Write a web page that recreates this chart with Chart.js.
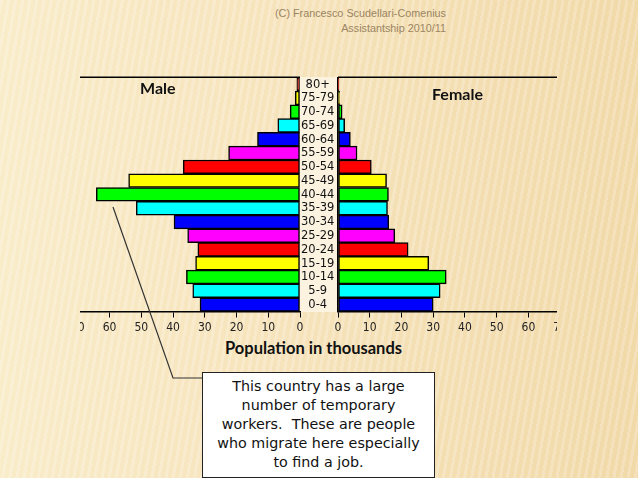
<!DOCTYPE html>
<html>
<head>
<meta charset="utf-8">
<script src="https://cdn.jsdelivr.net/npm/chart.js@4.4.0/dist/chart.umd.min.js"></script>
<style>
body { margin: 0; }
#page {
    position: relative; width: 638px; height: 478px; overflow: hidden;
    background:
        repeating-linear-gradient(100deg, rgba(255,255,255,0.22) 0 3px, rgba(255,255,255,0) 3px 7px),
        linear-gradient(90deg, #f9ecc9 0%, #f6e3bb 45%, #f1d9a8 100%);
}
.hdr { position: absolute; right: 192px; font: 10.8px "Liberation Sans", Arial, sans-serif; color: #9a8462; text-align: right; line-height: 14px; }
#strip { position: absolute; left: 300px; top: 77px; width: 38px; height: 235px; background: #fbf2e0; }
#leftBox { position: absolute; left: 80px; top: 68px; width: 258px; height: 270px; overflow: hidden; }
#leftBox canvas { position: absolute; left: -18px; top: 0; }
#rightBox { position: absolute; left: 320px; top: 68px; width: 237px; height: 270px; overflow: hidden; }
#rightBox canvas { position: absolute; left: 7.5px; top: 0; }
.ttl { position: absolute; font: bold 16px Lato, "DejaVu Sans", sans-serif; color: #111; }
#note {
    position: absolute; left: 202px; top: 372px; width: 231px; height: 100px;
    border: 1.5px solid #222; background: #fff; text-align: center;
    font: 14.3px "DejaVu Sans", sans-serif; line-height: 19px; padding-top: 4px; box-sizing: content-box; color: #111;
}
svg { position: absolute; left: 0; top: 0; }
</style>
</head>
<body>
<div id="page">
    <div class="hdr" style="top:6px">(C) Francesco Scudellari-Comenius</div>
    <div class="hdr" style="top:21px">Assistantship 2010/11</div>
    <div id="strip"></div>
    <div id="leftBox"><canvas id="maleChart" width="276" height="270"></canvas></div>
    <div id="rightBox"><canvas id="femaleChart" width="248" height="270"></canvas></div>
    <div class="ttl" style="left:140px;top:78px">Male</div>
    <div class="ttl" style="left:432px;top:84px">Female</div>
    <div class="ttl" style="left:225px;top:338px;font-size:16.5px">Population in thousands</div>
    <svg width="638" height="478"><polyline points="113,207 173,378 202,378" fill="none" stroke="#333" stroke-width="1.2"/></svg>
    <div id="note">This country has a large<br>number of temporary<br>workers.&nbsp; These are people<br>who migrate here especially<br>to find a job.</div>
</div>
<script>
var ages = ["80+", "75-79", "70-74", "65-69", "60-64", "55-59", "50-54", "45-49", "40-44",
            "35-39", "30-34", "25-29", "20-24", "15-19", "10-14", "5-9", "0-4"];
var male = [1.0, 1.5, 3.1, 7.0, 13.4, 22.5, 36.8, 54.0, 64.2, 51.6, 39.7, 35.4, 32.2, 32.9, 35.8, 33.8, 31.5];
var female = [0.3, 0.5, 1.3, 2.1, 3.9, 6.0, 10.5, 15.3, 15.9, 15.6, 16.0, 17.9, 22.1, 28.6, 34.1, 32.2, 30.0];
var cycle = ["#ff0000", "#ffff00", "#00ff00", "#00ffff", "#0000ff", "#ff00ff"];
var xMax = 75;

var barColors = ages.map(function(a, i) { return cycle[i % cycle.length]; });
var tickFont = { family: "'DejaVu Sans Condensed', 'Liberation Sans Narrow', 'DejaVu Sans'", size: 12 };
var ageFont = { family: "'DejaVu Sans Condensed', 'Liberation Sans Narrow', 'DejaVu Sans'", size: 12.8 };

// line along the top of each plot
var topLine = {
    id: "topLine",
    afterDraw: function(chart) {
        var a = chart.chartArea, ctx = chart.ctx;
        ctx.save();
        ctx.strokeStyle = "#000";
        ctx.lineWidth = 1.5;
        ctx.beginPath();
        ctx.moveTo(a.left, a.top);
        ctx.lineTo(a.right, a.top);
        ctx.stroke();
        ctx.restore();
    }
};

function xAxis(reverse) {
    return {
        type: "linear", min: 0, max: xMax, reverse: reverse,
        ticks: { stepSize: 10, includeBounds: false, color: "#222", font: tickFont, padding: 3, maxRotation: 0 },
        grid: { drawOnChartArea: false, drawTicks: true, tickLength: 6, tickColor: "#000", tickWidth: 1 },
        border: { display: true, color: "#000", width: 1.5 },
        afterFit: function(scale) { scale.height = 26.5; }
    };
}

function dataset(values) {
    return {
        data: values,
        backgroundColor: barColors,
        borderColor: "#000",
        borderWidth: 1.5,
        borderSkipped: false,
        barPercentage: 1,
        categoryPercentage: 1
    };
}

var maleChart = new Chart(document.getElementById("maleChart"), {
    type: "bar",
    data: { labels: ages, datasets: [dataset(male)] },
    options: {
        indexAxis: "y",
        responsive: false,
        animation: false,
        layout: { padding: { top: 9.3, left: 0, right: 0, bottom: 0 } },
        plugins: { legend: { display: false }, tooltip: { enabled: false } },
        scales: {
            x: xAxis(true),
            y: {
                position: "right",
                ticks: { color: "#111", font: ageFont, padding: 1, crossAlign: "center", autoSkip: false },
                grid: { drawOnChartArea: false, drawTicks: false },
                border: { display: false },
                afterFit: function(scale) { scale.width = 38; }
            }
        }
    },
    plugins: [topLine]
});

var femaleChart = new Chart(document.getElementById("femaleChart"), {
    type: "bar",
    data: { labels: ages, datasets: [dataset(female)] },
    options: {
        indexAxis: "y",
        responsive: false,
        animation: false,
        layout: { padding: { top: 9.3, left: 0, right: 0, bottom: 0 } },
        plugins: { legend: { display: false }, tooltip: { enabled: false } },
        scales: {
            x: xAxis(false),
            y: {
                position: "left",
                ticks: { display: false },
                grid: { drawOnChartArea: false, drawTicks: false },
                border: { display: true, color: "#000", width: 1.5 },
                afterFit: function(scale) { scale.width = 10; }
            }
        }
    },
    plugins: [topLine]
});
</script>
</body>
</html>
